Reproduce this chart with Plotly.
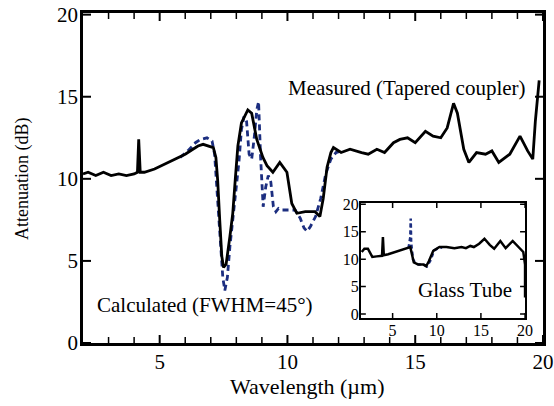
import plotly.graph_objects as go

# Main panel: measured (tapered coupler)
meas_x = [2.0, 2.2, 2.5, 2.8, 3.1, 3.4, 3.7, 4.0, 4.13, 4.18, 4.24, 4.4, 4.8, 5.2, 5.6, 6.0, 6.3, 6.5, 6.7, 6.9,
          7.1, 7.2, 7.27, 7.35, 7.43, 7.5, 7.6, 7.75, 7.86, 7.96, 8.06, 8.2, 8.3, 8.45, 8.6, 8.7, 8.8, 9.04, 9.2,
          9.43, 9.7, 9.98, 10.17, 10.37, 10.7, 11.08, 11.27, 11.4, 11.55, 11.7, 11.8, 12.1, 12.45, 12.9, 13.16,
          13.5, 13.8, 14.15, 14.4, 14.7, 15.0, 15.4, 15.7, 16.0, 16.25, 16.5, 16.65, 16.9, 17.1, 17.4, 17.75,
          18.0, 18.27, 18.7, 19.1, 19.4, 19.6, 19.7, 19.8, 19.85]
meas_y = [10.3, 10.4, 10.2, 10.4, 10.2, 10.3, 10.2, 10.3, 10.4, 12.4, 10.4, 10.4, 10.6, 10.9, 11.2, 11.5, 11.8,
          12.0, 12.1, 12.0, 11.9, 11.3, 9.9, 7.5, 5.3, 4.6, 4.8, 6.5, 7.9, 10.0, 12.0, 13.4, 13.7, 14.2, 14.0,
          13.3, 12.4, 11.3, 10.8, 10.4, 11.0, 10.4, 8.5, 7.9, 8.0, 8.0, 7.7, 8.8, 10.7, 11.6, 11.9, 11.6, 11.8,
          11.6, 11.5, 11.8, 11.6, 12.2, 12.4, 12.5, 12.2, 12.9, 12.6, 12.5, 13.1, 14.6, 14.0, 11.8, 11.0, 11.6,
          11.5, 11.7, 11.0, 11.5, 12.6, 11.7, 11.2, 13.5, 15.5, 16.0]

# Main panel: calculated (FWHM=45°)
calc_x = [5.8, 6.1, 6.4, 6.6, 6.85, 7.05, 7.15, 7.22, 7.3, 7.4, 7.47, 7.55, 7.65, 7.75, 7.88, 8.0, 8.1, 8.2,
          8.3, 8.4, 8.5, 8.6, 8.7, 8.8, 8.87, 8.95, 9.05, 9.15, 9.25, 9.35, 9.45, 9.55, 9.65, 9.8, 10.0, 10.3,
          10.5, 10.65, 10.77, 10.9, 11.1, 11.3, 11.5, 11.7, 11.9, 12.1]
calc_y = [11.3, 11.7, 12.2, 12.4, 12.5, 12.3, 11.5, 9.9, 7.9, 5.5, 4.0, 3.2, 4.0, 5.9, 7.9, 9.5, 11.0, 13.0,
          13.8, 13.5, 11.5, 11.2, 12.5, 14.2, 14.7, 11.3, 8.3, 9.5, 10.2, 9.8, 8.3, 8.0, 8.2, 8.1, 8.1, 8.1,
          7.6, 7.0, 6.8, 7.1, 7.7, 8.8, 10.3, 11.2, 11.6, 11.7]

# Inset: glass tube
ins_meas_x = [1.5, 1.8, 2.2, 2.7, 3.2, 3.8, 3.9, 4.0, 4.5, 5.3, 6.0, 6.7, 7.0, 7.1, 7.4, 7.9, 8.5, 8.8, 9.1,
              9.6, 10.3, 11.1, 12.0, 12.8, 13.3, 13.8, 14.2, 14.8, 15.4, 16.0, 16.5, 17.2, 17.8, 18.6, 19.4,
              19.8, 20.0, 20.0]
ins_meas_y = [11.3, 11.9, 11.9, 10.4, 10.5, 10.6, 14.0, 10.7, 10.9, 11.3, 11.6, 12.0, 12.2, 11.5, 9.4, 9.0,
              9.0, 8.7, 9.6, 11.5, 12.2, 12.2, 12.0, 12.2, 12.0, 12.4, 12.2, 12.8, 13.7, 12.6, 11.9, 13.3,
              12.0, 13.3, 12.0, 11.3, 9.0, 3.0]
ins_calc_x = [6.8, 7.0, 7.05, 7.1, 7.3, 7.6, 8.0, 8.5, 8.9, 9.3, 9.7, 10.2, 10.6]
ins_calc_y = [12.0, 14.0, 17.4, 13.0, 10.0, 9.2, 9.0, 9.0, 8.7, 9.8, 11.6, 12.0, 12.1]

y_ticks = [0, 5, 10, 15, 20]
x_ticks = [5, 10, 15, 20]
x_minor_ticks = [3, 4, 6, 7, 8, 9, 11, 12, 13, 14, 16, 17, 18, 19]

FONT = "Liberation Serif"
BLUE = "#1c2e80"
W, H = 554, 406
L, R, T, B = 83, 543, 13, 343
MAIN_X = [2, 20]
MAIN_Y = [0, 20.1]
INS_X = [1.4, 20]
INS_Y = [-0.7, 20.2]


def px2paper(px, py):
    return (px - L) / (R - L), (B - py) / (B - T)


fig = go.Figure()
fig.add_trace(go.Scatter(x=calc_x, y=calc_y, mode="lines",
                         line=dict(color=BLUE, width=2.8, dash="6px,4px"), xaxis="x", yaxis="y"))
fig.add_trace(go.Scatter(x=meas_x, y=meas_y, mode="lines",
                         line=dict(color="black", width=2.8), xaxis="x", yaxis="y"))
fig.add_trace(go.Scatter(x=ins_calc_x, y=ins_calc_y, mode="lines",
                         line=dict(color=BLUE, width=2.5, dash="4px,3px"), xaxis="x2", yaxis="y2"))
fig.add_trace(go.Scatter(x=ins_meas_x, y=ins_meas_y, mode="lines",
                         line=dict(color="black", width=2.5), xaxis="x2", yaxis="y2"))

shapes = []


def xticks_at(vals, anchor, length, width, xr, yr):
    for v in vals:
        shapes.append(dict(type="line", xref=xr, yref=yr, x0=v, x1=v, ysizemode="pixel",
                           yanchor=anchor, y0=0, y1=length, layer="above",
                           line=dict(color="black", width=width)))


def yticks_at(vals, anchor, length, width, xr, yr):
    for v in vals:
        shapes.append(dict(type="line", xref=xr, yref=yr, y0=v, y1=v, xsizemode="pixel",
                           xanchor=anchor, x0=0, x1=length, layer="above",
                           line=dict(color="black", width=width)))


# main panel inside ticks: bottom (up), top (down), left (right), right (left)
xticks_at(x_ticks, MAIN_Y[0], 8, 2, "x", "y")
xticks_at(x_minor_ticks, MAIN_Y[0], 6, 1.5, "x", "y")
xticks_at(x_ticks, MAIN_Y[1], -8, 2, "x", "y")
xticks_at(x_minor_ticks, MAIN_Y[1], -6, 1.5, "x", "y")
yticks_at(y_ticks, MAIN_X[0], 8, 2, "x", "y")
yticks_at(y_ticks, MAIN_X[1], -8, 2, "x", "y")
# inset inside ticks
xticks_at(x_ticks, INS_Y[0], 5, 1.5, "x2", "y2")
xticks_at(x_ticks, INS_Y[1], -5, 1.5, "x2", "y2")
yticks_at(y_ticks, INS_X[0], 5, 1.5, "x2", "y2")
yticks_at(y_ticks, INS_X[1], -5, 1.5, "x2", "y2")

annots = []
for text, px, py, size in [("Measured (Tapered coupler)", 407, 88, 21),
                           ("Calculated (FWHM=45°)", 205, 305, 21),
                           ("Glass Tube", 465, 290, 21),
                           ("Attenuation (dB)", 22, 179, 18),
                           ("Wavelength (µm)", 307, 386, 22)]:
    ax, ay = px2paper(px, py)
    annots.append(dict(text=text, x=ax, y=ay, xref="paper", yref="paper", showarrow=False,
                       xanchor="center", yanchor="middle", font=dict(size=size),
                       textangle=-90 if text.startswith("Atten") else 0))

axis_common = dict(showline=True, linecolor="black", mirror=True, ticks="",
                   showgrid=False, zeroline=False, automargin=False)

fig.update_layout(
    template="none",
    width=W, height=H,
    margin=dict(l=L, r=W - R, t=T, b=H - B),
    paper_bgcolor="white", plot_bgcolor="white",
    showlegend=False,
    font=dict(family=FONT, color="black"),
    xaxis=dict(range=MAIN_X, domain=[0, 1], tickmode="array", tickvals=x_ticks,
               linewidth=2.5, tickfont=dict(size=21), ticklabelstandoff=-2, **axis_common),
    yaxis=dict(range=MAIN_Y, domain=[0, 1], tickmode="array", tickvals=y_ticks,
               linewidth=2.5, tickfont=dict(size=21), ticklabelstandoff=-2, **axis_common),
    xaxis2=dict(range=INS_X, domain=[0.604, 0.961], anchor="y2", tickmode="array", tickvals=x_ticks,
                linewidth=2, tickfont=dict(size=16), ticklabelstandoff=-3, **axis_common),
    yaxis2=dict(range=INS_Y, domain=[0.076, 0.424], anchor="x2", tickmode="array", tickvals=y_ticks,
                linewidth=2, tickfont=dict(size=16), ticklabelstandoff=-3, **axis_common),
    annotations=annots,
    shapes=shapes,
)

fig.write_html("out.html", config={"displayModeBar": False},
               post_script="document.body.style.margin='0';document.body.style.overflow='hidden';")
